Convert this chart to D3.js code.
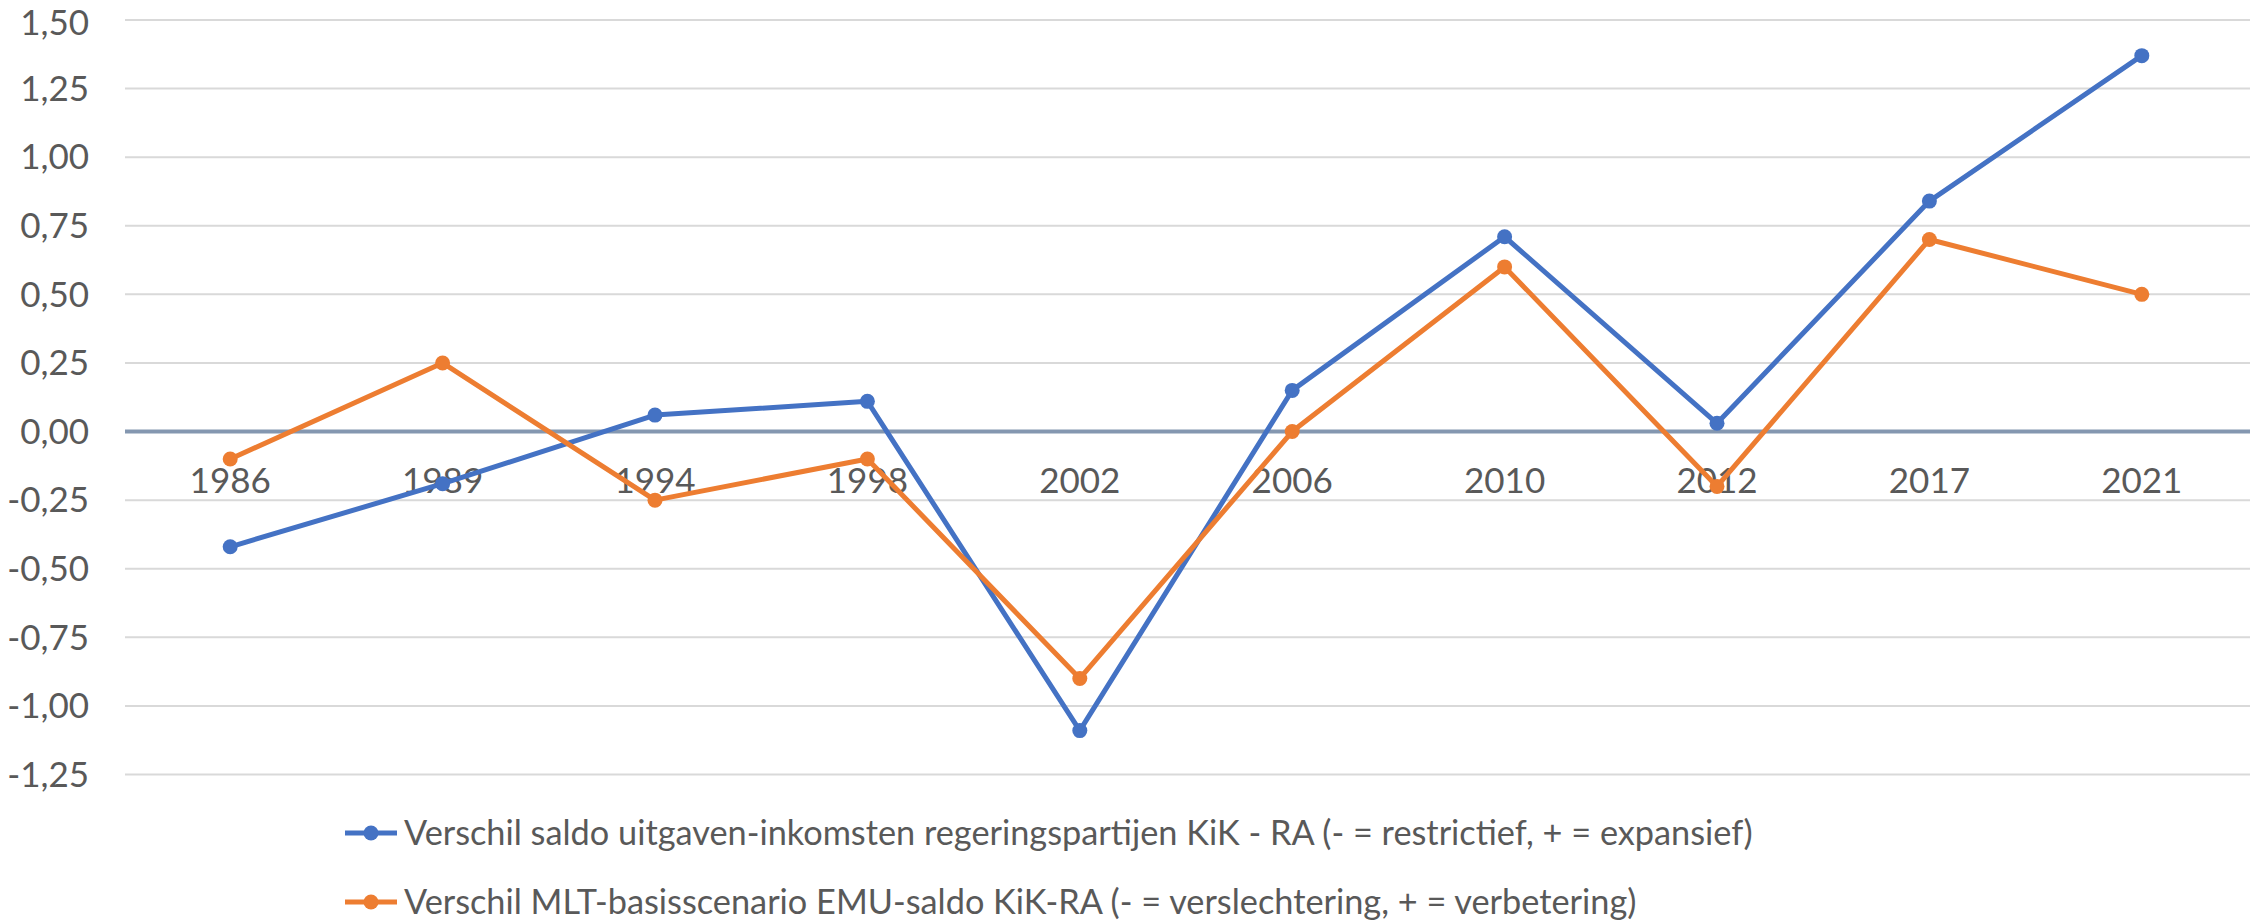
<!DOCTYPE html>
<html>
<head>
<meta charset="utf-8">
<style>
  body { margin: 0; background: #fff; }
  text { font-family: Lato, "Open Sans", sans-serif; fill: #595959; }
</style>
</head>
<body>
<div id="chart"></div>
<script src="https://d3js.org/d3.v7.min.js"></script>
<script>
  const years = ["1986", "1989", "1994", "1998", "2002", "2006", "2010", "2012", "2017", "2021"];
  const saldoKik = [-0.42, -0.19, 0.06, 0.11, -1.09, 0.15, 0.71, 0.03, 0.84, 1.37];
  const mltKik = [-0.10, 0.25, -0.25, -0.10, -0.90, 0.00, 0.60, -0.20, 0.70, 0.50];
  const yTicks = [1.5, 1.25, 1, 0.75, 0.5, 0.25, 0, -0.25, -0.5, -0.75, -1, -1.25];
  const seriesNames = [
    "Verschil saldo uitgaven-inkomsten regeringspartijen KiK - RA (- = restrictief, + = expansief)",
    "Verschil MLT-basisscenario EMU-saldo KiK-RA (- = verslechtering, + = verbetering)"
  ];
  const colors = ["#4472C4", "#ED7D31"];

  const width = 2257;
  const height = 923;
  const plot = { left: 125, right: 2250, top: 20, bottom: 774.5 };

  const svg = d3
    .select("#chart")
    .append("svg")
    .attr("width", width)
    .attr("height", height);

  const x = d3.scaleBand().domain(years).range([plot.left - 1, plot.right - 2]);
  const y = d3.scaleLinear().domain([-1.25, 1.5]).range([plot.bottom, plot.top]);
  const fmt = (v) => d3.format(".2f")(v).replace(".", ",").replace("−", "-");

  // gridlines
  svg
    .append("g")
    .selectAll("line")
    .data(yTicks.filter((d) => d !== 0))
    .enter()
    .append("line")
    .attr("x1", plot.left)
    .attr("x2", plot.right)
    .attr("y1", (d) => y(d))
    .attr("y2", (d) => y(d))
    .attr("stroke", "#d9d9d9")
    .attr("stroke-width", 2);

  // y labels (top one nudged so it stays inside the picture)
  svg
    .append("g")
    .selectAll("text")
    .data(yTicks)
    .enter()
    .append("text")
    .attr("x", 89)
    .attr("y", (d) => Math.max(y(d) + 12.3, 35))
    .attr("text-anchor", "end")
    .attr("font-size", 35)
    .text(fmt);

  // category axis at zero
  svg
    .append("line")
    .attr("x1", plot.left)
    .attr("x2", plot.right)
    .attr("y1", y(0))
    .attr("y2", y(0))
    .attr("stroke", "#8497B0")
    .attr("stroke-width", 4);

  svg
    .append("g")
    .selectAll("text")
    .data(years)
    .enter()
    .append("text")
    .attr("x", (d) => x(d) + x.bandwidth() / 2)
    .attr("y", y(0) + 49)
    .attr("dy", "0.35em")
    .attr("text-anchor", "middle")
    .attr("font-size", 35)
    .text((d) => d);

  const line = d3
    .line()
    .x((d, i) => x(years[i]) + x.bandwidth() / 2)
    .y((d) => y(d));

  [saldoKik, mltKik].forEach((values, s) => {
    const g = svg.append("g");
    g.append("path")
      .datum(values)
      .attr("fill", "none")
      .attr("stroke", colors[s])
      .attr("stroke-width", 5)
      .attr("stroke-linejoin", "round")
      .attr("d", line);
    g.selectAll("circle")
      .data(values)
      .enter()
      .append("circle")
      .attr("cx", (d, i) => x(years[i]) + x.bandwidth() / 2)
      .attr("cy", (d) => y(d))
      .attr("r", 7.5)
      .attr("fill", colors[s]);
  });

  // legend
  const legend = svg
    .append("g")
    .selectAll("g")
    .data(seriesNames)
    .enter()
    .append("g")
    .attr("transform", (d, i) => `translate(345, ${833 + i * 69})`);

  legend
    .append("line")
    .attr("x1", 0)
    .attr("x2", 52)
    .attr("stroke", (d, i) => colors[i])
    .attr("stroke-width", 5);

  legend
    .append("circle")
    .attr("cx", 26)
    .attr("r", 7.5)
    .attr("fill", (d, i) => colors[i]);

  legend
    .append("text")
    .attr("x", 59)
    .attr("dy", "0.35em")
    .attr("font-size", 34.3)
    .text((d) => d);
</script>
</body>
</html>
